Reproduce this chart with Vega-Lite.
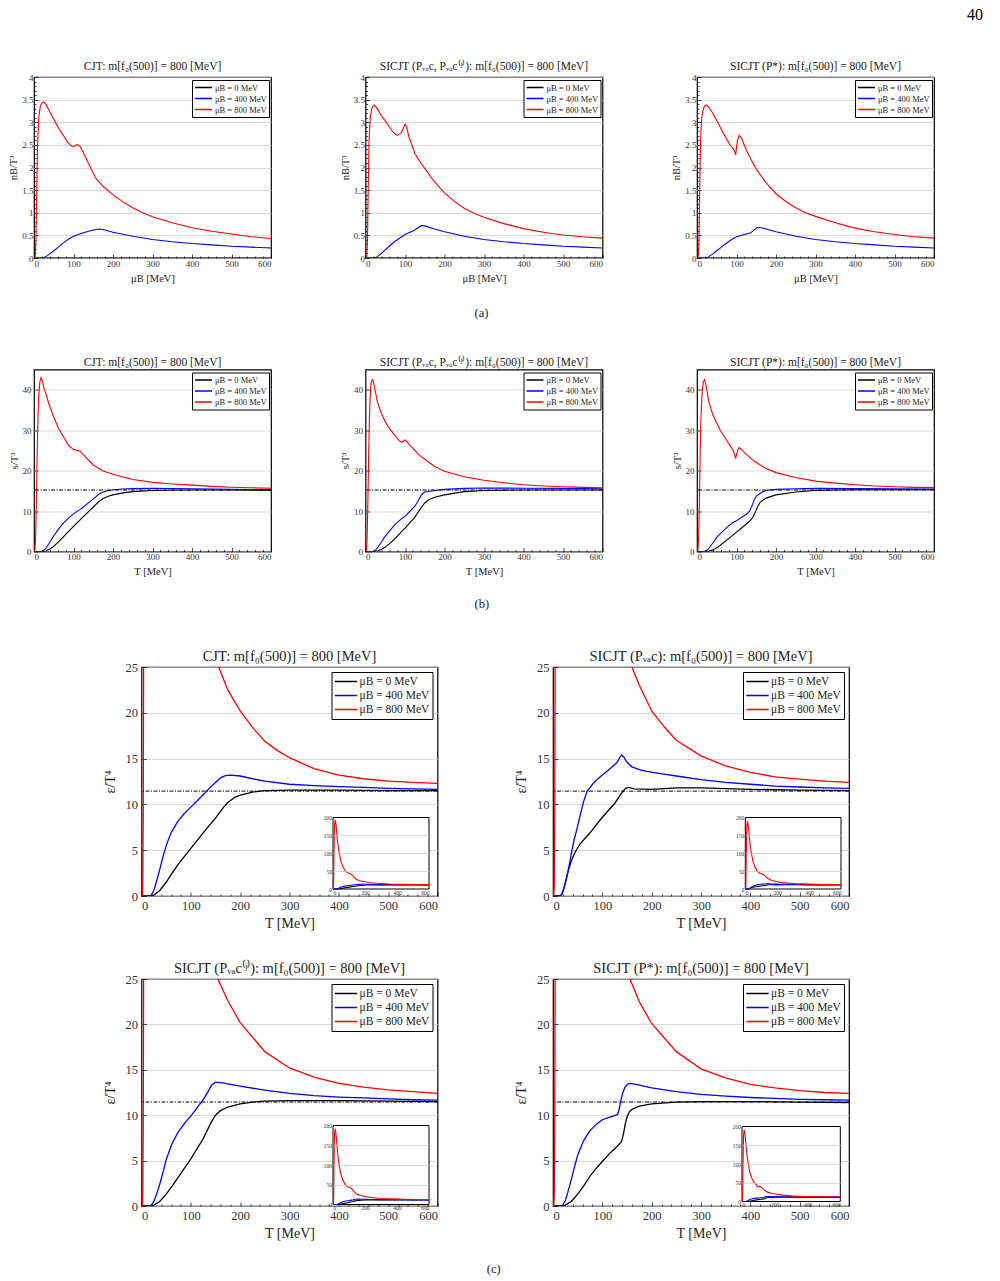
{
"$schema": "https://vega.github.io/schema/vega-lite/v6.json",
"padding": {"left": 8, "top": 6, "right": 5, "bottom": 5},
"title": {"text": "40", "anchor": "end", "fontSize": 16, "color": "#000", "dx": 48, "offset": 37},
"datasets": {
"a1": [
{"x":0,"y":0,"k":"0"},{"x":600,"y":0,"k":"0"},
{"x":0,"y":0,"k":"400"},{"x":20,"y":0,"k":"400"},{"x":25,"y":0.005,"k":"400"},{"x":30,"y":0.03,"k":"400"},{"x":40,"y":0.09,"k":"400"},{"x":50,"y":0.16,"k":"400"},{"x":60,"y":0.23,"k":"400"},{"x":75,"y":0.34,"k":"400"},{"x":90,"y":0.43,"k":"400"},{"x":100,"y":0.48,"k":"400"},{"x":125,"y":0.56,"k":"400"},{"x":150,"y":0.62,"k":"400"},{"x":165,"y":0.64,"k":"400"},{"x":180,"y":0.62,"k":"400"},{"x":200,"y":0.57,"k":"400"},{"x":250,"y":0.48,"k":"400"},{"x":300,"y":0.41,"k":"400"},{"x":350,"y":0.36,"k":"400"},{"x":400,"y":0.32,"k":"400"},{"x":450,"y":0.29,"k":"400"},{"x":500,"y":0.26,"k":"400"},{"x":550,"y":0.24,"k":"400"},{"x":600,"y":0.22,"k":"400"},
{"x":0,"y":0,"k":"800"},{"x":3,"y":0,"k":"800"},{"x":5,"y":0.4,"k":"800"},{"x":7,"y":1.5,"k":"800"},{"x":9,"y":2.5,"k":"800"},{"x":12,"y":3.1,"k":"800"},{"x":16,"y":3.35,"k":"800"},{"x":20,"y":3.43,"k":"800"},{"x":25,"y":3.45,"k":"800"},{"x":30,"y":3.4,"k":"800"},{"x":40,"y":3.23,"k":"800"},{"x":50,"y":3.07,"k":"800"},{"x":60,"y":2.9,"k":"800"},{"x":75,"y":2.7,"k":"800"},{"x":85,"y":2.56,"k":"800"},{"x":95,"y":2.47,"k":"800"},{"x":102,"y":2.47,"k":"800"},{"x":110,"y":2.51,"k":"800"},{"x":117,"y":2.46,"k":"800"},{"x":125,"y":2.33,"k":"800"},{"x":140,"y":2.05,"k":"800"},{"x":156,"y":1.77,"k":"800"},{"x":175,"y":1.58,"k":"800"},{"x":200,"y":1.4,"k":"800"},{"x":225,"y":1.24,"k":"800"},{"x":250,"y":1.11,"k":"800"},{"x":275,"y":1.0,"k":"800"},{"x":300,"y":0.91,"k":"800"},{"x":350,"y":0.78,"k":"800"},{"x":400,"y":0.67,"k":"800"},{"x":450,"y":0.59,"k":"800"},{"x":500,"y":0.53,"k":"800"},{"x":550,"y":0.47,"k":"800"},{"x":600,"y":0.43,"k":"800"}
],
"a2": [
{"x":0,"y":0,"k":"0"},{"x":600,"y":0,"k":"0"},
{"x":0,"y":0,"k":"400"},{"x":20,"y":0,"k":"400"},{"x":25,"y":0.005,"k":"400"},{"x":30,"y":0.03,"k":"400"},{"x":40,"y":0.1,"k":"400"},{"x":50,"y":0.18,"k":"400"},{"x":60,"y":0.26,"k":"400"},{"x":75,"y":0.37,"k":"400"},{"x":90,"y":0.46,"k":"400"},{"x":100,"y":0.52,"k":"400"},{"x":125,"y":0.62,"k":"400"},{"x":142,"y":0.72,"k":"400"},{"x":150,"y":0.71,"k":"400"},{"x":175,"y":0.64,"k":"400"},{"x":200,"y":0.58,"k":"400"},{"x":250,"y":0.48,"k":"400"},{"x":300,"y":0.41,"k":"400"},{"x":350,"y":0.36,"k":"400"},{"x":400,"y":0.32,"k":"400"},{"x":450,"y":0.29,"k":"400"},{"x":500,"y":0.26,"k":"400"},{"x":550,"y":0.24,"k":"400"},{"x":600,"y":0.22,"k":"400"},
{"x":0,"y":0,"k":"800"},{"x":3,"y":0,"k":"800"},{"x":5,"y":0.4,"k":"800"},{"x":7,"y":1.6,"k":"800"},{"x":9,"y":2.6,"k":"800"},{"x":12,"y":3.1,"k":"800"},{"x":16,"y":3.3,"k":"800"},{"x":20,"y":3.37,"k":"800"},{"x":23,"y":3.38,"k":"800"},{"x":30,"y":3.3,"k":"800"},{"x":40,"y":3.15,"k":"800"},{"x":50,"y":3.03,"k":"800"},{"x":60,"y":2.9,"k":"800"},{"x":70,"y":2.78,"k":"800"},{"x":80,"y":2.71,"k":"800"},{"x":90,"y":2.76,"k":"800"},{"x":96,"y":2.87,"k":"800"},{"x":100,"y":2.96,"k":"800"},{"x":104,"y":2.9,"k":"800"},{"x":110,"y":2.68,"k":"800"},{"x":125,"y":2.31,"k":"800"},{"x":140,"y":2.1,"k":"800"},{"x":150,"y":1.98,"k":"800"},{"x":175,"y":1.68,"k":"800"},{"x":200,"y":1.44,"k":"800"},{"x":225,"y":1.25,"k":"800"},{"x":250,"y":1.1,"k":"800"},{"x":275,"y":0.99,"k":"800"},{"x":300,"y":0.9,"k":"800"},{"x":350,"y":0.76,"k":"800"},{"x":400,"y":0.65,"k":"800"},{"x":450,"y":0.57,"k":"800"},{"x":500,"y":0.51,"k":"800"},{"x":550,"y":0.47,"k":"800"},{"x":600,"y":0.44,"k":"800"}
],
"a3": [
{"x":0,"y":0,"k":"0"},{"x":600,"y":0,"k":"0"},
{"x":0,"y":0,"k":"400"},{"x":20,"y":0,"k":"400"},{"x":25,"y":0.005,"k":"400"},{"x":30,"y":0.03,"k":"400"},{"x":40,"y":0.09,"k":"400"},{"x":50,"y":0.16,"k":"400"},{"x":60,"y":0.23,"k":"400"},{"x":75,"y":0.33,"k":"400"},{"x":90,"y":0.42,"k":"400"},{"x":100,"y":0.47,"k":"400"},{"x":115,"y":0.51,"k":"400"},{"x":125,"y":0.53,"k":"400"},{"x":135,"y":0.55,"k":"400"},{"x":142,"y":0.6,"k":"400"},{"x":150,"y":0.66,"k":"400"},{"x":158,"y":0.68,"k":"400"},{"x":175,"y":0.64,"k":"400"},{"x":200,"y":0.58,"k":"400"},{"x":250,"y":0.48,"k":"400"},{"x":300,"y":0.41,"k":"400"},{"x":350,"y":0.36,"k":"400"},{"x":400,"y":0.32,"k":"400"},{"x":450,"y":0.29,"k":"400"},{"x":500,"y":0.26,"k":"400"},{"x":550,"y":0.24,"k":"400"},{"x":600,"y":0.22,"k":"400"},
{"x":0,"y":0,"k":"800"},{"x":3,"y":0,"k":"800"},{"x":5,"y":0.4,"k":"800"},{"x":7,"y":1.6,"k":"800"},{"x":9,"y":2.6,"k":"800"},{"x":12,"y":3.1,"k":"800"},{"x":16,"y":3.3,"k":"800"},{"x":20,"y":3.37,"k":"800"},{"x":25,"y":3.38,"k":"800"},{"x":30,"y":3.33,"k":"800"},{"x":40,"y":3.2,"k":"800"},{"x":50,"y":3.04,"k":"800"},{"x":60,"y":2.87,"k":"800"},{"x":75,"y":2.63,"k":"800"},{"x":85,"y":2.48,"k":"800"},{"x":92,"y":2.41,"k":"800"},{"x":96,"y":2.34,"k":"800"},{"x":98,"y":2.28,"k":"800"},{"x":100,"y":2.45,"k":"800"},{"x":103,"y":2.62,"k":"800"},{"x":107,"y":2.71,"k":"800"},{"x":112,"y":2.66,"k":"800"},{"x":125,"y":2.38,"k":"800"},{"x":140,"y":2.12,"k":"800"},{"x":150,"y":1.97,"k":"800"},{"x":175,"y":1.66,"k":"800"},{"x":200,"y":1.42,"k":"800"},{"x":225,"y":1.25,"k":"800"},{"x":250,"y":1.11,"k":"800"},{"x":275,"y":1.0,"k":"800"},{"x":300,"y":0.92,"k":"800"},{"x":350,"y":0.78,"k":"800"},{"x":400,"y":0.66,"k":"800"},{"x":450,"y":0.58,"k":"800"},{"x":500,"y":0.52,"k":"800"},{"x":550,"y":0.47,"k":"800"},{"x":600,"y":0.44,"k":"800"}
],
"b1": [
{"x":0,"y":0,"k":"0"},{"x":25,"y":0,"k":"0"},{"x":30,"y":0.1,"k":"0"},{"x":40,"y":0.6,"k":"0"},{"x":50,"y":1.3,"k":"0"},{"x":60,"y":2.2,"k":"0"},{"x":75,"y":3.7,"k":"0"},{"x":90,"y":5.2,"k":"0"},{"x":100,"y":6.2,"k":"0"},{"x":125,"y":8.6,"k":"0"},{"x":150,"y":11.0,"k":"0"},{"x":165,"y":12.4,"k":"0"},{"x":175,"y":13.1,"k":"0"},{"x":190,"y":13.7,"k":"0"},{"x":200,"y":14.0,"k":"0"},{"x":225,"y":14.5,"k":"0"},{"x":250,"y":14.8,"k":"0"},{"x":300,"y":15.1,"k":"0"},{"x":400,"y":15.2,"k":"0"},{"x":500,"y":15.2,"k":"0"},{"x":600,"y":15.15,"k":"0"},
{"x":0,"y":0,"k":"400"},{"x":15,"y":0,"k":"400"},{"x":20,"y":0.05,"k":"400"},{"x":25,"y":0.3,"k":"400"},{"x":30,"y":0.8,"k":"400"},{"x":40,"y":2.3,"k":"400"},{"x":50,"y":3.9,"k":"400"},{"x":60,"y":5.3,"k":"400"},{"x":75,"y":7.1,"k":"400"},{"x":90,"y":8.5,"k":"400"},{"x":100,"y":9.3,"k":"400"},{"x":115,"y":10.3,"k":"400"},{"x":125,"y":11.0,"k":"400"},{"x":140,"y":12.2,"k":"400"},{"x":150,"y":13.0,"k":"400"},{"x":165,"y":14.2,"k":"400"},{"x":175,"y":14.7,"k":"400"},{"x":190,"y":15.1,"k":"400"},{"x":200,"y":15.25,"k":"400"},{"x":225,"y":15.45,"k":"400"},{"x":250,"y":15.55,"k":"400"},{"x":300,"y":15.6,"k":"400"},{"x":400,"y":15.5,"k":"400"},{"x":500,"y":15.4,"k":"400"},{"x":600,"y":15.3,"k":"400"},
{"x":0,"y":0,"k":"800"},{"x":2,"y":0,"k":"800"},{"x":4,"y":3,"k":"800"},{"x":6,"y":12,"k":"800"},{"x":8,"y":24,"k":"800"},{"x":10,"y":33,"k":"800"},{"x":12,"y":38.5,"k":"800"},{"x":15,"y":42,"k":"800"},{"x":18,"y":43,"k":"800"},{"x":21,"y":42.3,"k":"800"},{"x":25,"y":40.5,"k":"800"},{"x":30,"y":39,"k":"800"},{"x":38,"y":36.4,"k":"800"},{"x":50,"y":33.2,"k":"800"},{"x":63,"y":30.3,"k":"800"},{"x":75,"y":28.3,"k":"800"},{"x":88,"y":26.2,"k":"800"},{"x":100,"y":25.2,"k":"800"},{"x":110,"y":25.0,"k":"800"},{"x":117,"y":24.8,"k":"800"},{"x":130,"y":23.4,"k":"800"},{"x":150,"y":21.4,"k":"800"},{"x":175,"y":19.9,"k":"800"},{"x":200,"y":19.1,"k":"800"},{"x":250,"y":17.8,"k":"800"},{"x":300,"y":17.1,"k":"800"},{"x":350,"y":16.7,"k":"800"},{"x":400,"y":16.4,"k":"800"},{"x":450,"y":16.1,"k":"800"},{"x":500,"y":15.9,"k":"800"},{"x":550,"y":15.75,"k":"800"},{"x":600,"y":15.65,"k":"800"}
],
"b2": [
{"x":0,"y":0,"k":"0"},{"x":25,"y":0,"k":"0"},{"x":30,"y":0.1,"k":"0"},{"x":40,"y":0.5,"k":"0"},{"x":50,"y":1.1,"k":"0"},{"x":60,"y":1.9,"k":"0"},{"x":75,"y":3.2,"k":"0"},{"x":90,"y":4.8,"k":"0"},{"x":100,"y":5.8,"k":"0"},{"x":115,"y":7.4,"k":"0"},{"x":125,"y":8.5,"k":"0"},{"x":140,"y":10.7,"k":"0"},{"x":150,"y":12.0,"k":"0"},{"x":160,"y":12.8,"k":"0"},{"x":175,"y":13.4,"k":"0"},{"x":200,"y":14.0,"k":"0"},{"x":250,"y":14.8,"k":"0"},{"x":300,"y":15.1,"k":"0"},{"x":400,"y":15.2,"k":"0"},{"x":600,"y":15.2,"k":"0"},
{"x":0,"y":0,"k":"400"},{"x":15,"y":0,"k":"400"},{"x":20,"y":0.05,"k":"400"},{"x":25,"y":0.3,"k":"400"},{"x":30,"y":0.9,"k":"400"},{"x":40,"y":2.3,"k":"400"},{"x":50,"y":3.8,"k":"400"},{"x":60,"y":5.0,"k":"400"},{"x":75,"y":6.7,"k":"400"},{"x":90,"y":8.0,"k":"400"},{"x":100,"y":8.7,"k":"400"},{"x":115,"y":10.2,"k":"400"},{"x":125,"y":11.2,"k":"400"},{"x":135,"y":12.8,"k":"400"},{"x":142,"y":14.1,"k":"400"},{"x":150,"y":14.7,"k":"400"},{"x":175,"y":15.1,"k":"400"},{"x":200,"y":15.35,"k":"400"},{"x":250,"y":15.6,"k":"400"},{"x":300,"y":15.7,"k":"400"},{"x":400,"y":15.65,"k":"400"},{"x":500,"y":15.6,"k":"400"},{"x":600,"y":15.5,"k":"400"},
{"x":0,"y":0,"k":"800"},{"x":2,"y":0,"k":"800"},{"x":4,"y":3,"k":"800"},{"x":6,"y":12,"k":"800"},{"x":8,"y":24,"k":"800"},{"x":10,"y":33,"k":"800"},{"x":12,"y":38.5,"k":"800"},{"x":14,"y":41.5,"k":"800"},{"x":17,"y":42.5,"k":"800"},{"x":20,"y":42,"k":"800"},{"x":25,"y":39.5,"k":"800"},{"x":30,"y":37,"k":"800"},{"x":40,"y":34.2,"k":"800"},{"x":50,"y":32.1,"k":"800"},{"x":60,"y":30.5,"k":"800"},{"x":75,"y":28.6,"k":"800"},{"x":85,"y":27.4,"k":"800"},{"x":92,"y":27.0,"k":"800"},{"x":97,"y":27.4,"k":"800"},{"x":100,"y":27.6,"k":"800"},{"x":104,"y":27.3,"k":"800"},{"x":110,"y":26.5,"k":"800"},{"x":125,"y":25.0,"k":"800"},{"x":140,"y":23.5,"k":"800"},{"x":150,"y":22.8,"k":"800"},{"x":175,"y":21.0,"k":"800"},{"x":200,"y":19.85,"k":"800"},{"x":250,"y":18.5,"k":"800"},{"x":300,"y":17.6,"k":"800"},{"x":350,"y":17.0,"k":"800"},{"x":400,"y":16.5,"k":"800"},{"x":450,"y":16.2,"k":"800"},{"x":500,"y":16.0,"k":"800"},{"x":550,"y":15.85,"k":"800"},{"x":600,"y":15.75,"k":"800"}
],
"b3": [
{"x":0,"y":0,"k":"0"},{"x":25,"y":0,"k":"0"},{"x":30,"y":0.1,"k":"0"},{"x":40,"y":0.4,"k":"0"},{"x":50,"y":0.9,"k":"0"},{"x":60,"y":1.6,"k":"0"},{"x":75,"y":2.8,"k":"0"},{"x":90,"y":4.0,"k":"0"},{"x":100,"y":4.8,"k":"0"},{"x":115,"y":6.0,"k":"0"},{"x":125,"y":6.8,"k":"0"},{"x":135,"y":7.7,"k":"0"},{"x":142,"y":8.6,"k":"0"},{"x":148,"y":9.8,"k":"0"},{"x":153,"y":11.0,"k":"0"},{"x":160,"y":12.2,"k":"0"},{"x":175,"y":13.2,"k":"0"},{"x":200,"y":14.0,"k":"0"},{"x":250,"y":14.7,"k":"0"},{"x":300,"y":15.1,"k":"0"},{"x":400,"y":15.25,"k":"0"},{"x":600,"y":15.25,"k":"0"},
{"x":0,"y":0,"k":"400"},{"x":15,"y":0,"k":"400"},{"x":20,"y":0.05,"k":"400"},{"x":25,"y":0.3,"k":"400"},{"x":30,"y":0.8,"k":"400"},{"x":40,"y":2.1,"k":"400"},{"x":50,"y":3.5,"k":"400"},{"x":60,"y":4.5,"k":"400"},{"x":75,"y":5.9,"k":"400"},{"x":90,"y":7.1,"k":"400"},{"x":100,"y":7.6,"k":"400"},{"x":115,"y":8.6,"k":"400"},{"x":125,"y":9.2,"k":"400"},{"x":133,"y":10.0,"k":"400"},{"x":138,"y":11.0,"k":"400"},{"x":145,"y":12.8,"k":"400"},{"x":150,"y":13.7,"k":"400"},{"x":165,"y":14.7,"k":"400"},{"x":175,"y":15.1,"k":"400"},{"x":200,"y":15.35,"k":"400"},{"x":250,"y":15.5,"k":"400"},{"x":300,"y":15.6,"k":"400"},{"x":400,"y":15.55,"k":"400"},{"x":600,"y":15.45,"k":"400"},
{"x":0,"y":0,"k":"800"},{"x":2,"y":0,"k":"800"},{"x":4,"y":3,"k":"800"},{"x":6,"y":12,"k":"800"},{"x":8,"y":24,"k":"800"},{"x":10,"y":33,"k":"800"},{"x":13,"y":39.5,"k":"800"},{"x":16,"y":42,"k":"800"},{"x":19,"y":42.5,"k":"800"},{"x":23,"y":41,"k":"800"},{"x":30,"y":37,"k":"800"},{"x":40,"y":33.8,"k":"800"},{"x":50,"y":31.8,"k":"800"},{"x":60,"y":29.8,"k":"800"},{"x":75,"y":27.5,"k":"800"},{"x":85,"y":26,"k":"800"},{"x":92,"y":25,"k":"800"},{"x":96,"y":23.5,"k":"800"},{"x":98,"y":23.1,"k":"800"},{"x":101,"y":24.3,"k":"800"},{"x":104,"y":25.3,"k":"800"},{"x":107,"y":25.7,"k":"800"},{"x":112,"y":25.3,"k":"800"},{"x":125,"y":24.0,"k":"800"},{"x":140,"y":22.7,"k":"800"},{"x":150,"y":22.0,"k":"800"},{"x":175,"y":20.5,"k":"800"},{"x":200,"y":19.5,"k":"800"},{"x":250,"y":18.3,"k":"800"},{"x":300,"y":17.4,"k":"800"},{"x":350,"y":16.9,"k":"800"},{"x":400,"y":16.5,"k":"800"},{"x":450,"y":16.2,"k":"800"},{"x":500,"y":16.0,"k":"800"},{"x":550,"y":15.85,"k":"800"},{"x":600,"y":15.8,"k":"800"}
],
"c1": [
{"x":0,"y":0,"k":"0"},{"x":18,"y":0,"k":"0"},{"x":25,"y":0.1,"k":"0"},{"x":37,"y":0.6,"k":"0"},{"x":50,"y":1.5,"k":"0"},{"x":62,"y":2.5,"k":"0"},{"x":75,"y":3.5,"k":"0"},{"x":100,"y":5.2,"k":"0"},{"x":125,"y":6.9,"k":"0"},{"x":150,"y":8.5,"k":"0"},{"x":165,"y":9.6,"k":"0"},{"x":175,"y":10.2,"k":"0"},{"x":190,"y":10.8,"k":"0"},{"x":200,"y":11.0,"k":"0"},{"x":225,"y":11.35,"k":"0"},{"x":250,"y":11.5,"k":"0"},{"x":300,"y":11.55,"k":"0"},{"x":400,"y":11.55,"k":"0"},{"x":500,"y":11.5,"k":"0"},{"x":600,"y":11.5,"k":"0"},
{"x":0,"y":0,"k":"400"},{"x":17,"y":0,"k":"400"},{"x":20,"y":0.1,"k":"400"},{"x":25,"y":0.6,"k":"400"},{"x":30,"y":1.5,"k":"400"},{"x":37,"y":2.9,"k":"400"},{"x":45,"y":4.6,"k":"400"},{"x":52,"y":5.8,"k":"400"},{"x":60,"y":6.9,"k":"400"},{"x":72,"y":8.0,"k":"400"},{"x":85,"y":8.9,"k":"400"},{"x":100,"y":9.7,"k":"400"},{"x":115,"y":10.5,"k":"400"},{"x":126,"y":11.1,"k":"400"},{"x":140,"y":11.9,"k":"400"},{"x":150,"y":12.4,"k":"400"},{"x":160,"y":12.9,"k":"400"},{"x":170,"y":13.15,"k":"400"},{"x":180,"y":13.2,"k":"400"},{"x":200,"y":13.1,"k":"400"},{"x":225,"y":12.8,"k":"400"},{"x":250,"y":12.55,"k":"400"},{"x":300,"y":12.2,"k":"400"},{"x":350,"y":12.05,"k":"400"},{"x":400,"y":11.95,"k":"400"},{"x":450,"y":11.85,"k":"400"},{"x":500,"y":11.75,"k":"400"},{"x":550,"y":11.7,"k":"400"},{"x":600,"y":11.65,"k":"400"},
{"x":0,"y":0,"k":"800"},{"x":1.5,"y":0,"k":"800"},{"x":2.5,"y":1,"k":"800"},{"x":3.5,"y":8,"k":"800"},{"x":4.5,"y":30,"k":"800"},{"x":6,"y":90,"k":"800"},{"x":8,"y":150,"k":"800"},{"x":10,"y":180,"k":"800"},{"x":13,"y":192,"k":"800"},{"x":16,"y":190,"k":"800"},{"x":20,"y":175,"k":"800"},{"x":25,"y":150,"k":"800"},{"x":30,"y":128,"k":"800"},{"x":38,"y":103,"k":"800"},{"x":48,"y":80,"k":"800"},{"x":60,"y":64,"k":"800"},{"x":75,"y":52,"k":"800"},{"x":90,"y":46,"k":"800"},{"x":105,"y":43,"k":"800"},{"x":115,"y":41,"k":"800"},{"x":125,"y":36,"k":"800"},{"x":135,"y":31,"k":"800"},{"x":145,"y":27.5,"k":"800"},{"x":155,"y":25.2,"k":"800"},{"x":175,"y":22.5,"k":"800"},{"x":200,"y":20.2,"k":"800"},{"x":225,"y":18.4,"k":"800"},{"x":250,"y":16.9,"k":"800"},{"x":275,"y":15.9,"k":"800"},{"x":300,"y":15.1,"k":"800"},{"x":350,"y":13.9,"k":"800"},{"x":400,"y":13.2,"k":"800"},{"x":450,"y":12.8,"k":"800"},{"x":500,"y":12.55,"k":"800"},{"x":550,"y":12.4,"k":"800"},{"x":600,"y":12.3,"k":"800"}
],
"c2": [
{"x":0,"y":0,"k":"0"},{"x":14,"y":0,"k":"0"},{"x":18,"y":0.2,"k":"0"},{"x":22,"y":0.8,"k":"0"},{"x":26,"y":1.7,"k":"0"},{"x":31,"y":2.8,"k":"0"},{"x":37,"y":3.8,"k":"0"},{"x":45,"y":4.8,"k":"0"},{"x":55,"y":5.7,"k":"0"},{"x":75,"y":6.9,"k":"0"},{"x":100,"y":8.6,"k":"0"},{"x":125,"y":10.1,"k":"0"},{"x":140,"y":11.3,"k":"0"},{"x":147,"y":11.75,"k":"0"},{"x":153,"y":11.85,"k":"0"},{"x":165,"y":11.7,"k":"0"},{"x":200,"y":11.65,"k":"0"},{"x":250,"y":11.8,"k":"0"},{"x":300,"y":11.8,"k":"0"},{"x":400,"y":11.65,"k":"0"},{"x":500,"y":11.55,"k":"0"},{"x":600,"y":11.5,"k":"0"},
{"x":0,"y":0,"k":"400"},{"x":14,"y":0,"k":"400"},{"x":18,"y":0.2,"k":"400"},{"x":22,"y":0.8,"k":"400"},{"x":26,"y":1.6,"k":"400"},{"x":31,"y":2.8,"k":"400"},{"x":37,"y":4.6,"k":"400"},{"x":43,"y":6.2,"k":"400"},{"x":48,"y":7.2,"k":"400"},{"x":55,"y":8.8,"k":"400"},{"x":62,"y":10.3,"k":"400"},{"x":69,"y":11.4,"k":"400"},{"x":80,"y":12.2,"k":"400"},{"x":89,"y":12.7,"k":"400"},{"x":100,"y":13.2,"k":"400"},{"x":109,"y":13.6,"k":"400"},{"x":120,"y":14.1,"k":"400"},{"x":130,"y":14.6,"k":"400"},{"x":136,"y":15.2,"k":"400"},{"x":139,"y":15.4,"k":"400"},{"x":143,"y":15.2,"k":"400"},{"x":150,"y":14.6,"k":"400"},{"x":160,"y":14.1,"k":"400"},{"x":175,"y":13.8,"k":"400"},{"x":190,"y":13.6,"k":"400"},{"x":225,"y":13.3,"k":"400"},{"x":250,"y":13.1,"k":"400"},{"x":300,"y":12.7,"k":"400"},{"x":350,"y":12.4,"k":"400"},{"x":400,"y":12.2,"k":"400"},{"x":450,"y":12.0,"k":"400"},{"x":500,"y":11.9,"k":"400"},{"x":550,"y":11.8,"k":"400"},{"x":600,"y":11.75,"k":"400"},
{"x":0,"y":0,"k":"800"},{"x":1.5,"y":0,"k":"800"},{"x":2.5,"y":1,"k":"800"},{"x":3.5,"y":8,"k":"800"},{"x":4.5,"y":30,"k":"800"},{"x":6,"y":90,"k":"800"},{"x":8,"y":150,"k":"800"},{"x":10,"y":178,"k":"800"},{"x":13,"y":188,"k":"800"},{"x":16,"y":186,"k":"800"},{"x":20,"y":172,"k":"800"},{"x":25,"y":148,"k":"800"},{"x":30,"y":125,"k":"800"},{"x":38,"y":100,"k":"800"},{"x":48,"y":78,"k":"800"},{"x":60,"y":62,"k":"800"},{"x":75,"y":50,"k":"800"},{"x":90,"y":44,"k":"800"},{"x":105,"y":42,"k":"800"},{"x":115,"y":40,"k":"800"},{"x":125,"y":36,"k":"800"},{"x":135,"y":32,"k":"800"},{"x":145,"y":28.5,"k":"800"},{"x":160,"y":25,"k":"800"},{"x":175,"y":23,"k":"800"},{"x":200,"y":20.2,"k":"800"},{"x":225,"y":18.5,"k":"800"},{"x":250,"y":17,"k":"800"},{"x":300,"y":15.3,"k":"800"},{"x":350,"y":14.2,"k":"800"},{"x":400,"y":13.5,"k":"800"},{"x":450,"y":13.0,"k":"800"},{"x":500,"y":12.75,"k":"800"},{"x":550,"y":12.55,"k":"800"},{"x":600,"y":12.4,"k":"800"}
],
"c3": [
{"x":0,"y":0,"k":"0"},{"x":18,"y":0,"k":"0"},{"x":25,"y":0.1,"k":"0"},{"x":37,"y":0.5,"k":"0"},{"x":50,"y":1.3,"k":"0"},{"x":62,"y":2.2,"k":"0"},{"x":75,"y":3.2,"k":"0"},{"x":100,"y":5.2,"k":"0"},{"x":125,"y":7.4,"k":"0"},{"x":140,"y":9.1,"k":"0"},{"x":150,"y":10.0,"k":"0"},{"x":160,"y":10.5,"k":"0"},{"x":175,"y":10.9,"k":"0"},{"x":200,"y":11.25,"k":"0"},{"x":225,"y":11.45,"k":"0"},{"x":250,"y":11.55,"k":"0"},{"x":300,"y":11.6,"k":"0"},{"x":400,"y":11.6,"k":"0"},{"x":500,"y":11.55,"k":"0"},{"x":600,"y":11.5,"k":"0"},
{"x":0,"y":0,"k":"400"},{"x":17,"y":0,"k":"400"},{"x":20,"y":0.1,"k":"400"},{"x":25,"y":0.5,"k":"400"},{"x":30,"y":1.2,"k":"400"},{"x":37,"y":2.4,"k":"400"},{"x":45,"y":4.0,"k":"400"},{"x":50,"y":5.1,"k":"400"},{"x":62,"y":6.9,"k":"400"},{"x":75,"y":8.2,"k":"400"},{"x":90,"y":9.3,"k":"400"},{"x":100,"y":9.9,"k":"400"},{"x":115,"y":11.0,"k":"400"},{"x":125,"y":11.7,"k":"400"},{"x":135,"y":12.6,"k":"400"},{"x":142,"y":13.3,"k":"400"},{"x":150,"y":13.65,"k":"400"},{"x":165,"y":13.55,"k":"400"},{"x":175,"y":13.45,"k":"400"},{"x":200,"y":13.2,"k":"400"},{"x":250,"y":12.75,"k":"400"},{"x":300,"y":12.4,"k":"400"},{"x":350,"y":12.15,"k":"400"},{"x":400,"y":12.0,"k":"400"},{"x":450,"y":11.9,"k":"400"},{"x":500,"y":11.8,"k":"400"},{"x":550,"y":11.7,"k":"400"},{"x":600,"y":11.65,"k":"400"},
{"x":0,"y":0,"k":"800"},{"x":1.5,"y":0,"k":"800"},{"x":2.5,"y":1,"k":"800"},{"x":3.5,"y":8,"k":"800"},{"x":4.5,"y":30,"k":"800"},{"x":6,"y":90,"k":"800"},{"x":8,"y":150,"k":"800"},{"x":10,"y":178,"k":"800"},{"x":13,"y":190,"k":"800"},{"x":16,"y":188,"k":"800"},{"x":20,"y":173,"k":"800"},{"x":25,"y":149,"k":"800"},{"x":30,"y":126,"k":"800"},{"x":38,"y":101,"k":"800"},{"x":48,"y":79,"k":"800"},{"x":60,"y":63,"k":"800"},{"x":75,"y":51,"k":"800"},{"x":90,"y":45,"k":"800"},{"x":105,"y":43,"k":"800"},{"x":115,"y":41,"k":"800"},{"x":125,"y":36,"k":"800"},{"x":135,"y":31.5,"k":"800"},{"x":145,"y":27.5,"k":"800"},{"x":155,"y":25,"k":"800"},{"x":175,"y":22.6,"k":"800"},{"x":200,"y":20.2,"k":"800"},{"x":250,"y":17.0,"k":"800"},{"x":300,"y":15.2,"k":"800"},{"x":350,"y":14.2,"k":"800"},{"x":400,"y":13.5,"k":"800"},{"x":450,"y":13.1,"k":"800"},{"x":500,"y":12.8,"k":"800"},{"x":550,"y":12.6,"k":"800"},{"x":600,"y":12.4,"k":"800"}
],
"c4": [
{"x":0,"y":0,"k":"0"},{"x":18,"y":0,"k":"0"},{"x":25,"y":0.1,"k":"0"},{"x":37,"y":0.5,"k":"0"},{"x":50,"y":1.3,"k":"0"},{"x":62,"y":2.2,"k":"0"},{"x":75,"y":3.3,"k":"0"},{"x":90,"y":4.3,"k":"0"},{"x":100,"y":4.9,"k":"0"},{"x":115,"y":5.8,"k":"0"},{"x":125,"y":6.3,"k":"0"},{"x":135,"y":6.85,"k":"0"},{"x":139,"y":7.1,"k":"0"},{"x":143,"y":8.0,"k":"0"},{"x":146,"y":8.9,"k":"0"},{"x":150,"y":9.8,"k":"0"},{"x":155,"y":10.4,"k":"0"},{"x":160,"y":10.65,"k":"0"},{"x":175,"y":11.0,"k":"0"},{"x":200,"y":11.25,"k":"0"},{"x":250,"y":11.45,"k":"0"},{"x":300,"y":11.5,"k":"0"},{"x":400,"y":11.5,"k":"0"},{"x":500,"y":11.45,"k":"0"},{"x":600,"y":11.4,"k":"0"},
{"x":0,"y":0,"k":"400"},{"x":17,"y":0,"k":"400"},{"x":20,"y":0.1,"k":"400"},{"x":25,"y":0.6,"k":"400"},{"x":30,"y":1.5,"k":"400"},{"x":37,"y":2.9,"k":"400"},{"x":45,"y":4.6,"k":"400"},{"x":50,"y":5.6,"k":"400"},{"x":62,"y":7.2,"k":"400"},{"x":75,"y":8.3,"k":"400"},{"x":90,"y":9.1,"k":"400"},{"x":100,"y":9.5,"k":"400"},{"x":115,"y":9.8,"k":"400"},{"x":125,"y":9.95,"k":"400"},{"x":131,"y":10.1,"k":"400"},{"x":134,"y":10.6,"k":"400"},{"x":137,"y":11.5,"k":"400"},{"x":141,"y":12.4,"k":"400"},{"x":146,"y":13.1,"k":"400"},{"x":152,"y":13.45,"k":"400"},{"x":158,"y":13.5,"k":"400"},{"x":175,"y":13.3,"k":"400"},{"x":200,"y":13.0,"k":"400"},{"x":250,"y":12.6,"k":"400"},{"x":300,"y":12.3,"k":"400"},{"x":350,"y":12.1,"k":"400"},{"x":400,"y":11.95,"k":"400"},{"x":450,"y":11.85,"k":"400"},{"x":500,"y":11.75,"k":"400"},{"x":550,"y":11.7,"k":"400"},{"x":600,"y":11.65,"k":"400"},
{"x":0,"y":0,"k":"800"},{"x":1.5,"y":0,"k":"800"},{"x":2.5,"y":1,"k":"800"},{"x":3.5,"y":8,"k":"800"},{"x":4.5,"y":30,"k":"800"},{"x":6,"y":90,"k":"800"},{"x":8,"y":150,"k":"800"},{"x":10,"y":178,"k":"800"},{"x":13,"y":190,"k":"800"},{"x":16,"y":187,"k":"800"},{"x":20,"y":172,"k":"800"},{"x":25,"y":148,"k":"800"},{"x":30,"y":125,"k":"800"},{"x":38,"y":100,"k":"800"},{"x":48,"y":78,"k":"800"},{"x":60,"y":62,"k":"800"},{"x":75,"y":50,"k":"800"},{"x":90,"y":43,"k":"800"},{"x":97,"y":38,"k":"800"},{"x":105,"y":41,"k":"800"},{"x":115,"y":39,"k":"800"},{"x":125,"y":35,"k":"800"},{"x":135,"y":31,"k":"800"},{"x":145,"y":27.5,"k":"800"},{"x":156,"y":25,"k":"800"},{"x":175,"y":22.5,"k":"800"},{"x":200,"y":20.1,"k":"800"},{"x":250,"y":17.0,"k":"800"},{"x":300,"y":15.1,"k":"800"},{"x":350,"y":14.1,"k":"800"},{"x":400,"y":13.4,"k":"800"},{"x":450,"y":13.0,"k":"800"},{"x":500,"y":12.7,"k":"800"},{"x":550,"y":12.5,"k":"800"},{"x":600,"y":12.4,"k":"800"}
]
},
"vconcat": [
{
"vconcat": [
{
"hconcat": [
{"width": 237, "height": 181, "title": {"text": "CJT: m[f₀(500)] = 800 [MeV]", "fontSize": 11.5, "offset": 1},
 "data": {"name": "a1"}, "mark": {"type": "line", "strokeWidth": 1.1, "clip": true},
 "encoding": {
  "x": {"field": "x", "type": "quantitative", "scale": {"domain": [0, 600], "nice": false}, "axis": {"values": [0,20,40,60,80,100,120,140,160,180,200,220,240,260,280,300,320,340,360,380,400,420,440,460,480,500,520,540,560,580,600], "title": "μB [MeV]"}},
  "y": {"field": "y", "type": "quantitative", "scale": {"domain": [0, 4], "nice": false}, "axis": {"values": [0,0.1,0.2,0.3,0.4,0.5,0.6,0.7,0.8,0.9,1,1.1,1.2,1.3,1.4,1.5,1.6,1.7,1.8,1.9,2,2.1,2.2,2.3,2.4,2.5,2.6,2.7,2.8,2.9,3,3.1,3.2,3.3,3.4,3.5,3.6,3.7,3.8,3.9,4], "format": "~g", "title": "nB/T³", "labelExpr": "abs(datum.value*2 - round(datum.value*2)) < 0.001 ? datum.label : ''", "gridOpacity": {"condition": {"test": "abs(datum.value*2 - round(datum.value*2)) < 0.001", "value": 1}, "value": 0}, "ticks": true, "tickColor": "#000", "tickWidth": 0.7, "tickSize": {"condition": {"test": "abs(datum.value*2 - round(datum.value*2)) < 0.001", "value": -4}, "value": -2}}},
  "color": {"field": "k", "type": "nominal", "scale": {"domain": ["0","400","800"], "range": ["#000000","#0000ff","#ff0000"]}, "legend": {"title": null, "labelExpr": "'μB = ' + datum.label + ' MeV'"}}
 }},
{"width": 237, "height": 181, "title": {"text": "SICJT (Pᵥₐc, Pᵥₐc⁽ʲ⁾): m[f₀(500)] = 800 [MeV]", "fontSize": 11.5, "offset": 1},
 "data": {"name": "a2"}, "mark": {"type": "line", "strokeWidth": 1.1, "clip": true},
 "encoding": {
  "x": {"field": "x", "type": "quantitative", "scale": {"domain": [0, 600], "nice": false}, "axis": {"values": [0,20,40,60,80,100,120,140,160,180,200,220,240,260,280,300,320,340,360,380,400,420,440,460,480,500,520,540,560,580,600], "title": "μB [MeV]"}},
  "y": {"field": "y", "type": "quantitative", "scale": {"domain": [0, 4], "nice": false}, "axis": {"values": [0,0.1,0.2,0.3,0.4,0.5,0.6,0.7,0.8,0.9,1,1.1,1.2,1.3,1.4,1.5,1.6,1.7,1.8,1.9,2,2.1,2.2,2.3,2.4,2.5,2.6,2.7,2.8,2.9,3,3.1,3.2,3.3,3.4,3.5,3.6,3.7,3.8,3.9,4], "format": "~g", "title": "nB/T³", "labelExpr": "abs(datum.value*2 - round(datum.value*2)) < 0.001 ? datum.label : ''", "gridOpacity": {"condition": {"test": "abs(datum.value*2 - round(datum.value*2)) < 0.001", "value": 1}, "value": 0}, "ticks": true, "tickColor": "#000", "tickWidth": 0.7, "tickSize": {"condition": {"test": "abs(datum.value*2 - round(datum.value*2)) < 0.001", "value": -4}, "value": -2}}},
  "color": {"field": "k", "type": "nominal", "scale": {"domain": ["0","400","800"], "range": ["#000000","#0000ff","#ff0000"]}, "legend": {"title": null, "labelExpr": "'μB = ' + datum.label + ' MeV'"}}
 }},
{"width": 237, "height": 181, "title": {"text": "SICJT (P*): m[f₀(500)] = 800 [MeV]", "fontSize": 11.5, "offset": 1},
 "data": {"name": "a3"}, "mark": {"type": "line", "strokeWidth": 1.1, "clip": true},
 "encoding": {
  "x": {"field": "x", "type": "quantitative", "scale": {"domain": [0, 600], "nice": false}, "axis": {"values": [0,20,40,60,80,100,120,140,160,180,200,220,240,260,280,300,320,340,360,380,400,420,440,460,480,500,520,540,560,580,600], "title": "μB [MeV]"}},
  "y": {"field": "y", "type": "quantitative", "scale": {"domain": [0, 4], "nice": false}, "axis": {"values": [0,0.1,0.2,0.3,0.4,0.5,0.6,0.7,0.8,0.9,1,1.1,1.2,1.3,1.4,1.5,1.6,1.7,1.8,1.9,2,2.1,2.2,2.3,2.4,2.5,2.6,2.7,2.8,2.9,3,3.1,3.2,3.3,3.4,3.5,3.6,3.7,3.8,3.9,4], "format": "~g", "title": "nB/T³", "labelExpr": "abs(datum.value*2 - round(datum.value*2)) < 0.001 ? datum.label : ''", "gridOpacity": {"condition": {"test": "abs(datum.value*2 - round(datum.value*2)) < 0.001", "value": 1}, "value": 0}, "ticks": true, "tickColor": "#000", "tickWidth": 0.7, "tickSize": {"condition": {"test": "abs(datum.value*2 - round(datum.value*2)) < 0.001", "value": -4}, "value": -2}}},
  "color": {"field": "k", "type": "nominal", "scale": {"domain": ["0","400","800"], "range": ["#000000","#0000ff","#ff0000"]}, "legend": {"title": null, "labelExpr": "'μB = ' + datum.label + ' MeV'"}}
 }}
],
"spacing": 94.5, "bounds": "flush",
"title": {"text": "(a)", "orient": "bottom", "anchor": "middle", "fontSize": 12.5, "offset": 23, "dx": 10},
"resolve": {"scale": {"color": "independent"}}
},
{
"hconcat": [
{"width": 237, "height": 182, "title": {"text": "CJT: m[f₀(500)] = 800 [MeV]", "fontSize": 11.5, "offset": 1},
 "layer": [
  {"data": {"name": "b1"}, "mark": {"type": "line", "strokeWidth": 1.1, "clip": true},
   "encoding": {
    "x": {"field": "x", "type": "quantitative", "scale": {"domain": [0, 600], "nice": false}, "axis": {"values": [0,20,40,60,80,100,120,140,160,180,200,220,240,260,280,300,320,340,360,380,400,420,440,460,480,500,520,540,560,580,600], "title": "T [MeV]"}},
    "y": {"field": "y", "type": "quantitative", "scale": {"domain": [0, 45], "nice": false}, "axis": {"values": [0,5,10,15,20,25,30,35,40,45], "title": "s/T³", "ticks": true, "tickColor": "#000", "tickWidth": 0.7, "tickSize": -4, "labelPadding": 7}},
    "color": {"field": "k", "type": "nominal", "scale": {"domain": ["0","400","800"], "range": ["#000000","#0000ff","#ff0000"]}, "legend": {"title": null, "labelExpr": "'μB = ' + datum.label + ' MeV'"}}
   }},
  {"data": {"values": [{"v": 15.2}]}, "mark": {"type": "rule", "color": "#000", "strokeWidth": 1, "strokeDash": [4, 1.5, 1, 1.5]}, "encoding": {"y": {"field": "v", "type": "quantitative"}}}
 ]},
{"width": 237, "height": 182, "title": {"text": "SICJT (Pᵥₐc, Pᵥₐc⁽ʲ⁾): m[f₀(500)] = 800 [MeV]", "fontSize": 11.5, "offset": 1},
 "layer": [
  {"data": {"name": "b2"}, "mark": {"type": "line", "strokeWidth": 1.1, "clip": true},
   "encoding": {
    "x": {"field": "x", "type": "quantitative", "scale": {"domain": [0, 600], "nice": false}, "axis": {"values": [0,20,40,60,80,100,120,140,160,180,200,220,240,260,280,300,320,340,360,380,400,420,440,460,480,500,520,540,560,580,600], "title": "T [MeV]"}},
    "y": {"field": "y", "type": "quantitative", "scale": {"domain": [0, 45], "nice": false}, "axis": {"values": [0,5,10,15,20,25,30,35,40,45], "title": "s/T³", "ticks": true, "tickColor": "#000", "tickWidth": 0.7, "tickSize": -4, "labelPadding": 7}},
    "color": {"field": "k", "type": "nominal", "scale": {"domain": ["0","400","800"], "range": ["#000000","#0000ff","#ff0000"]}, "legend": {"title": null, "labelExpr": "'μB = ' + datum.label + ' MeV'"}}
   }},
  {"data": {"values": [{"v": 15.2}]}, "mark": {"type": "rule", "color": "#000", "strokeWidth": 1, "strokeDash": [4, 1.5, 1, 1.5]}, "encoding": {"y": {"field": "v", "type": "quantitative"}}}
 ]},
{"width": 237, "height": 182, "title": {"text": "SICJT (P*): m[f₀(500)] = 800 [MeV]", "fontSize": 11.5, "offset": 1},
 "layer": [
  {"data": {"name": "b3"}, "mark": {"type": "line", "strokeWidth": 1.1, "clip": true},
   "encoding": {
    "x": {"field": "x", "type": "quantitative", "scale": {"domain": [0, 600], "nice": false}, "axis": {"values": [0,20,40,60,80,100,120,140,160,180,200,220,240,260,280,300,320,340,360,380,400,420,440,460,480,500,520,540,560,580,600], "title": "T [MeV]"}},
    "y": {"field": "y", "type": "quantitative", "scale": {"domain": [0, 45], "nice": false}, "axis": {"values": [0,5,10,15,20,25,30,35,40,45], "title": "s/T³", "ticks": true, "tickColor": "#000", "tickWidth": 0.7, "tickSize": -4, "labelPadding": 7}},
    "color": {"field": "k", "type": "nominal", "scale": {"domain": ["0","400","800"], "range": ["#000000","#0000ff","#ff0000"]}, "legend": {"title": null, "labelExpr": "'μB = ' + datum.label + ' MeV'"}}
   }},
  {"data": {"values": [{"v": 15.2}]}, "mark": {"type": "rule", "color": "#000", "strokeWidth": 1, "strokeDash": [4, 1.5, 1, 1.5]}, "encoding": {"y": {"field": "v", "type": "quantitative"}}}
 ]}
],
"spacing": 94.5, "bounds": "flush",
"title": {"text": "(b)", "orient": "bottom", "anchor": "middle", "fontSize": 12.5, "offset": 20, "dx": 10},
"resolve": {"scale": {"color": "independent"}}
}
],
"spacing": 35.5,
"resolve": {"scale": {"color": "independent"}}
},
{
"hconcat": [
{"width": 1, "height": 1, "view": {"stroke": null}, "data": {"values": [{"s": ""}]}, "mark": {"type": "text"}, "encoding": {"text": {"field": "s"}}},
{
"vconcat": [
{
"hconcat": [
{"width": 296, "height": 229, "title": {"text": "CJT: m[f₀(500)] = 800 [MeV]", "fontSize": 14.5, "offset": -3.5},
 "layer": [
  {"layer": [
   {"data": {"name": "c1"}, "mark": {"type": "line", "strokeWidth": 1.3, "clip": true},
    "encoding": {
     "x": {"field": "x", "type": "quantitative", "scale": {"domain": [0, 600], "nice": false}, "axis": {"values": [0,20,40,60,80,100,120,140,160,180,200,220,240,260,280,300,320,340,360,380,400,420,440,460,480,500,520,540,560,580,600], "title": "T [MeV]", "labelFontSize": 12.5, "titleFontSize": 14, "labelPadding": 7, "titlePadding": 3}},
     "y": {"field": "y", "type": "quantitative", "scale": {"domain": [0, 25], "nice": false}, "axis": {"values": [0,5,10,15,20,25], "title": "ε/T⁴", "labelFontSize": 12.5, "titleFontSize": 14, "labelPadding": 9, "titlePadding": 8, "ticks": true, "tickColor": "#000", "tickWidth": 0.7, "tickSize": -5}},
     "color": {"field": "k", "type": "nominal", "scale": {"domain": ["0","400","800"], "range": ["#000000","#0000ff","#ff0000"]}, "legend": {"title": null, "labelExpr": "'μB = ' + datum.label + ' MeV'", "labelFontSize": 11.5, "symbolSize": 500, "offset": 5, "padding": 2.5, "clipHeight": 14, "labelOffset": 1.5}}
    }},
   {"data": {"values": [{"v": 11.45}]}, "mark": {"type": "rule", "color": "#000", "strokeWidth": 1, "strokeDash": [4, 1.5, 1, 1.5]}, "encoding": {"y": {"field": "v", "type": "quantitative"}}}
  ]},
  {"layer": [
   {"data": {"values": [{"x0": 0, "x1": 600, "y0": 0, "y1": 200}]}, "mark": {"type": "rect", "fill": "#ffffff", "stroke": "#000000", "strokeWidth": 1},
    "encoding": {
     "x": {"field": "x0", "type": "quantitative", "scale": {"domain": [0, 600], "range": [191.5, 287.5], "nice": false}, "axis": {"orient": "top", "values": [200, 400], "labels": false, "ticks": false, "domain": false, "title": null, "grid": true, "zindex": 1}},
     "x2": {"field": "x1"},
     "y": {"field": "y0", "type": "quantitative", "scale": {"domain": [0, 200], "range": [222, 150.5], "nice": false}, "axis": {"orient": "left", "offset": -191.5, "values": [0,50,100,150,200], "labelFontSize": 5.5, "labelPadding": 1.5, "ticks": false, "domain": false, "title": null, "grid": true, "gridOpacity": {"condition": {"test": "datum.value > 0 && datum.value < 200", "value": 1}, "value": 0}, "zindex": 1}},
     "y2": {"field": "y1"}
    }},
   {"data": {"name": "c1"}, "mark": {"type": "line", "strokeWidth": 1.1},
    "encoding": {
     "x": {"field": "x", "type": "quantitative", "scale": {"domain": [0, 600], "range": [191.5, 287.5], "nice": false}, "axis": {"orient": "bottom", "offset": -7, "values": [0,200,400,600], "labelFontSize": 5.5, "labelPadding": 1, "ticks": false, "domain": false, "grid": false, "title": null}},
     "y": {"field": "y", "type": "quantitative", "scale": {"domain": [0, 200], "range": [222, 150.5], "nice": false}, "axis": null},
     "color": {"field": "k", "type": "nominal", "scale": {"domain": ["0","400","800"], "range": ["#000000","#0000ff","#ff0000"]}, "legend": {"title": null, "labelExpr": "'μB = ' + datum.label + ' MeV'", "labelFontSize": 11.5, "symbolSize": 500, "offset": 5, "padding": 2.5, "clipHeight": 14, "labelOffset": 1.5}}
    }}
  ], "resolve": {"axis": {"x": "independent", "y": "independent"}}}
 ],
 "resolve": {"scale": {"x": "independent", "y": "independent"}, "axis": {"x": "independent", "y": "independent"}}},
{"width": 296, "height": 229, "title": {"text": "SICJT (Pᵥₐc): m[f₀(500)] = 800 [MeV]", "fontSize": 14.5, "offset": -3.5},
 "layer": [
  {"layer": [
   {"data": {"name": "c2"}, "mark": {"type": "line", "strokeWidth": 1.3, "clip": true},
    "encoding": {
     "x": {"field": "x", "type": "quantitative", "scale": {"domain": [0, 600], "nice": false}, "axis": {"values": [0,20,40,60,80,100,120,140,160,180,200,220,240,260,280,300,320,340,360,380,400,420,440,460,480,500,520,540,560,580,600], "title": "T [MeV]", "labelFontSize": 12.5, "titleFontSize": 14, "labelPadding": 7, "titlePadding": 3}},
     "y": {"field": "y", "type": "quantitative", "scale": {"domain": [0, 25], "nice": false}, "axis": {"values": [0,5,10,15,20,25], "title": "ε/T⁴", "labelFontSize": 12.5, "titleFontSize": 14, "labelPadding": 9, "titlePadding": 8, "ticks": true, "tickColor": "#000", "tickWidth": 0.7, "tickSize": -5}},
     "color": {"field": "k", "type": "nominal", "scale": {"domain": ["0","400","800"], "range": ["#000000","#0000ff","#ff0000"]}, "legend": {"title": null, "labelExpr": "'μB = ' + datum.label + ' MeV'", "labelFontSize": 11.5, "symbolSize": 500, "offset": 5, "padding": 2.5, "clipHeight": 14, "labelOffset": 1.5}}
    }},
   {"data": {"values": [{"v": 11.45}]}, "mark": {"type": "rule", "color": "#000", "strokeWidth": 1, "strokeDash": [4, 1.5, 1, 1.5]}, "encoding": {"y": {"field": "v", "type": "quantitative"}}}
  ]},
  {"layer": [
   {"data": {"values": [{"x0": 0, "x1": 600, "y0": 0, "y1": 200}]}, "mark": {"type": "rect", "fill": "#ffffff", "stroke": "#000000", "strokeWidth": 1},
    "encoding": {
     "x": {"field": "x0", "type": "quantitative", "scale": {"domain": [0, 600], "range": [192.3, 288], "nice": false}, "axis": {"orient": "top", "values": [200, 400], "labels": false, "ticks": false, "domain": false, "title": null, "grid": true, "zindex": 1}},
     "x2": {"field": "x1"},
     "y": {"field": "y0", "type": "quantitative", "scale": {"domain": [0, 200], "range": [222, 150.5], "nice": false}, "axis": {"orient": "left", "offset": -192.3, "values": [0,50,100,150,200], "labelFontSize": 5.5, "labelPadding": 1.5, "ticks": false, "domain": false, "title": null, "grid": true, "gridOpacity": {"condition": {"test": "datum.value > 0 && datum.value < 200", "value": 1}, "value": 0}, "zindex": 1}},
     "y2": {"field": "y1"}
    }},
   {"data": {"name": "c2"}, "mark": {"type": "line", "strokeWidth": 1.1},
    "encoding": {
     "x": {"field": "x", "type": "quantitative", "scale": {"domain": [0, 600], "range": [192.3, 288], "nice": false}, "axis": {"orient": "bottom", "offset": -7, "values": [0,200,400,600], "labelFontSize": 5.5, "labelPadding": 1, "ticks": false, "domain": false, "grid": false, "title": null}},
     "y": {"field": "y", "type": "quantitative", "scale": {"domain": [0, 200], "range": [222, 150.5], "nice": false}, "axis": null},
     "color": {"field": "k", "type": "nominal", "scale": {"domain": ["0","400","800"], "range": ["#000000","#0000ff","#ff0000"]}, "legend": {"title": null, "labelExpr": "'μB = ' + datum.label + ' MeV'", "labelFontSize": 11.5, "symbolSize": 500, "offset": 5, "padding": 2.5, "clipHeight": 14, "labelOffset": 1.5}}
    }}
  ], "resolve": {"axis": {"x": "independent", "y": "independent"}}}
 ],
 "resolve": {"scale": {"x": "independent", "y": "independent"}, "axis": {"x": "independent", "y": "independent"}}}
],
"spacing": 115.5, "bounds": "flush",
"resolve": {"scale": {"color": "independent"}}
},
{
"hconcat": [
{"width": 296, "height": 227, "title": {"text": "SICJT (Pᵥₐc⁽ʲ⁾): m[f₀(500)] = 800 [MeV]", "fontSize": 14.5, "offset": -3.5},
 "layer": [
  {"layer": [
   {"data": {"name": "c3"}, "mark": {"type": "line", "strokeWidth": 1.3, "clip": true},
    "encoding": {
     "x": {"field": "x", "type": "quantitative", "scale": {"domain": [0, 600], "nice": false}, "axis": {"values": [0,20,40,60,80,100,120,140,160,180,200,220,240,260,280,300,320,340,360,380,400,420,440,460,480,500,520,540,560,580,600], "title": "T [MeV]", "labelFontSize": 12.5, "titleFontSize": 14, "labelPadding": 7, "titlePadding": 3}},
     "y": {"field": "y", "type": "quantitative", "scale": {"domain": [0, 25], "nice": false}, "axis": {"values": [0,5,10,15,20,25], "title": "ε/T⁴", "labelFontSize": 12.5, "titleFontSize": 14, "labelPadding": 9, "titlePadding": 8, "ticks": true, "tickColor": "#000", "tickWidth": 0.7, "tickSize": -5}},
     "color": {"field": "k", "type": "nominal", "scale": {"domain": ["0","400","800"], "range": ["#000000","#0000ff","#ff0000"]}, "legend": {"title": null, "labelExpr": "'μB = ' + datum.label + ' MeV'", "labelFontSize": 11.5, "symbolSize": 500, "offset": 5, "padding": 2.5, "clipHeight": 14, "labelOffset": 1.5}}
    }},
   {"data": {"values": [{"v": 11.45}]}, "mark": {"type": "rule", "color": "#000", "strokeWidth": 1, "strokeDash": [4, 1.5, 1, 1.5]}, "encoding": {"y": {"field": "v", "type": "quantitative"}}}
  ]},
  {"layer": [
   {"data": {"values": [{"x0": 0, "x1": 600, "y0": 0, "y1": 200}]}, "mark": {"type": "rect", "fill": "#ffffff", "stroke": "#000000", "strokeWidth": 1},
    "encoding": {
     "x": {"field": "x0", "type": "quantitative", "scale": {"domain": [0, 600], "range": [191.5, 287.5], "nice": false}, "axis": {"orient": "top", "values": [200, 400], "labels": false, "ticks": false, "domain": false, "title": null, "grid": true, "zindex": 1}},
     "x2": {"field": "x1"},
     "y": {"field": "y0", "type": "quantitative", "scale": {"domain": [0, 200], "range": [225.5, 146.5], "nice": false}, "axis": {"orient": "left", "offset": -191.5, "values": [0,50,100,150,200], "labelFontSize": 5.5, "labelPadding": 1.5, "ticks": false, "domain": false, "title": null, "grid": true, "gridOpacity": {"condition": {"test": "datum.value > 0 && datum.value < 200", "value": 1}, "value": 0}, "zindex": 1}},
     "y2": {"field": "y1"}
    }},
   {"data": {"name": "c3"}, "mark": {"type": "line", "strokeWidth": 1.1},
    "encoding": {
     "x": {"field": "x", "type": "quantitative", "scale": {"domain": [0, 600], "range": [191.5, 287.5], "nice": false}, "axis": {"orient": "bottom", "offset": -1.5, "values": [0,200,400,600], "labelFontSize": 5.5, "labelPadding": 1, "ticks": false, "domain": false, "grid": false, "title": null}},
     "y": {"field": "y", "type": "quantitative", "scale": {"domain": [0, 200], "range": [225.5, 146.5], "nice": false}, "axis": null},
     "color": {"field": "k", "type": "nominal", "scale": {"domain": ["0","400","800"], "range": ["#000000","#0000ff","#ff0000"]}, "legend": {"title": null, "labelExpr": "'μB = ' + datum.label + ' MeV'", "labelFontSize": 11.5, "symbolSize": 500, "offset": 5, "padding": 2.5, "clipHeight": 14, "labelOffset": 1.5}}
    }}
  ], "resolve": {"axis": {"x": "independent", "y": "independent"}}}
 ],
 "resolve": {"scale": {"x": "independent", "y": "independent"}, "axis": {"x": "independent", "y": "independent"}}},
{"width": 296, "height": 227, "title": {"text": "SICJT (P*): m[f₀(500)] = 800 [MeV]", "fontSize": 14.5, "offset": -3.5},
 "layer": [
  {"layer": [
   {"data": {"name": "c4"}, "mark": {"type": "line", "strokeWidth": 1.3, "clip": true},
    "encoding": {
     "x": {"field": "x", "type": "quantitative", "scale": {"domain": [0, 600], "nice": false}, "axis": {"values": [0,20,40,60,80,100,120,140,160,180,200,220,240,260,280,300,320,340,360,380,400,420,440,460,480,500,520,540,560,580,600], "title": "T [MeV]", "labelFontSize": 12.5, "titleFontSize": 14, "labelPadding": 7, "titlePadding": 3}},
     "y": {"field": "y", "type": "quantitative", "scale": {"domain": [0, 25], "nice": false}, "axis": {"values": [0,5,10,15,20,25], "title": "ε/T⁴", "labelFontSize": 12.5, "titleFontSize": 14, "labelPadding": 9, "titlePadding": 8, "ticks": true, "tickColor": "#000", "tickWidth": 0.7, "tickSize": -5}},
     "color": {"field": "k", "type": "nominal", "scale": {"domain": ["0","400","800"], "range": ["#000000","#0000ff","#ff0000"]}, "legend": {"title": null, "labelExpr": "'μB = ' + datum.label + ' MeV'", "labelFontSize": 11.5, "symbolSize": 500, "offset": 5, "padding": 2.5, "clipHeight": 14, "labelOffset": 1.5}}
    }},
   {"data": {"values": [{"v": 11.45}]}, "mark": {"type": "rule", "color": "#000", "strokeWidth": 1, "strokeDash": [4, 1.5, 1, 1.5]}, "encoding": {"y": {"field": "v", "type": "quantitative"}}}
  ]},
  {"layer": [
   {"data": {"values": [{"x0": 0, "x1": 600, "y0": 0, "y1": 200}]}, "mark": {"type": "rect", "fill": "#ffffff", "stroke": "#000000", "strokeWidth": 1},
    "encoding": {
     "x": {"field": "x0", "type": "quantitative", "scale": {"domain": [0, 600], "range": [189, 287.3], "nice": false}, "axis": {"orient": "top", "values": [200, 400], "labels": false, "ticks": false, "domain": false, "title": null, "grid": true, "zindex": 1}},
     "x2": {"field": "x1"},
     "y": {"field": "y0", "type": "quantitative", "scale": {"domain": [0, 200], "range": [222.5, 147.5], "nice": false}, "axis": {"orient": "left", "offset": -189, "values": [0,50,100,150,200], "labelFontSize": 5.5, "labelPadding": 1.5, "ticks": false, "domain": false, "title": null, "grid": true, "gridOpacity": {"condition": {"test": "datum.value > 0 && datum.value < 200", "value": 1}, "value": 0}, "zindex": 1}},
     "y2": {"field": "y1"}
    }},
   {"data": {"name": "c4"}, "mark": {"type": "line", "strokeWidth": 1.1},
    "encoding": {
     "x": {"field": "x", "type": "quantitative", "scale": {"domain": [0, 600], "range": [189, 287.3], "nice": false}, "axis": {"orient": "bottom", "offset": -4.5, "values": [0,200,400,600], "labelFontSize": 5.5, "labelPadding": 1, "ticks": false, "domain": false, "grid": false, "title": null}},
     "y": {"field": "y", "type": "quantitative", "scale": {"domain": [0, 200], "range": [222.5, 147.5], "nice": false}, "axis": null},
     "color": {"field": "k", "type": "nominal", "scale": {"domain": ["0","400","800"], "range": ["#000000","#0000ff","#ff0000"]}, "legend": {"title": null, "labelExpr": "'μB = ' + datum.label + ' MeV'", "labelFontSize": 11.5, "symbolSize": 500, "offset": 5, "padding": 2.5, "clipHeight": 14, "labelOffset": 1.5}}
    }}
  ], "resolve": {"axis": {"x": "independent", "y": "independent"}}}
 ],
 "resolve": {"scale": {"x": "independent", "y": "independent"}, "axis": {"x": "independent", "y": "independent"}}}
],
"spacing": 115.5, "bounds": "flush",
"resolve": {"scale": {"color": "independent"}}
}
],
"spacing": 28,
"title": {"text": "(c)", "orient": "bottom", "anchor": "middle", "fontSize": 12.5, "offset": 22, "dx": 17.5},
"resolve": {"scale": {"color": "independent"}}
}
],
"spacing": 66.5,
"resolve": {"scale": {"color": "independent"}}
}
],
"spacing": 37,
"resolve": {"scale": {"color": "independent"}},
"config": {
 "font": "Liberation Serif",
 "background": "#ffffff",
 "view": {"stroke": "#000000", "strokeWidth": 1.2},
 "axis": {"domain": false, "grid": true, "gridColor": "#c8c8c8", "gridWidth": 0.7, "ticks": false, "labelOverlap": false, "labelFontSize": 9, "titleFontSize": 10.5, "labelPadding": 5, "titlePadding": 3, "labelColor": "#333333", "titleColor": "#222222", "titleFontWeight": "normal", "labelFont": "Liberation Serif", "titleFont": "Liberation Serif"},
 "axisX": {"labelExpr": "datum.value % 100 === 0 ? datum.label : ''", "gridOpacity": {"condition": {"test": "datum.value % 100 === 0", "value": 1}, "value": 0}, "ticks": true, "tickColor": "#000", "tickWidth": 0.7, "tickSize": {"condition": {"test": "datum.value % 100 === 0", "value": -4}, "value": -2}},
 "title": {"fontWeight": "normal", "color": "#222222", "font": "Liberation Serif"},
 "legend": {"orient": "top-right", "offset": 2.5, "padding": 2, "fillColor": "#ffffff", "strokeColor": "#000000", "strokeWidth": 1, "labelFontSize": 8.5, "labelColor": "#222222", "labelFont": "Liberation Serif", "symbolType": "stroke", "symbolSize": 289, "symbolStrokeWidth": 1.4, "rowPadding": 0, "clipHeight": 11, "labelOffset": 2, "cornerRadius": 0}
}
}
